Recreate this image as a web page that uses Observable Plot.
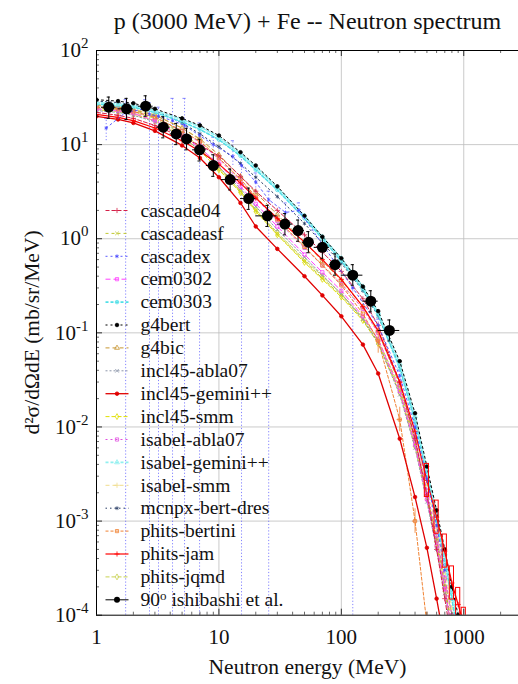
<!DOCTYPE html>
<html><head><meta charset="utf-8">
<script src="https://cdn.jsdelivr.net/npm/d3@7"></script>
<script src="https://cdn.jsdelivr.net/npm/@observablehq/plot@0.6"></script>
<style>
body{margin:0;background:#fff}
svg{display:block}
</style>
</head><body><div id="chart"></div>
<script>
// ---------- data ----------
const energies = [1, 1.5, 2, 3, 5, 7, 10, 15, 20, 30, 50, 70, 100, 150, 200, 300, 400, 500, 600, 700, 800, 900, 1000];

const cascade04      = [22, 20.5, 19, 16, 12, 9.8, 7.6, 4.6, 3.2, 2.0, 1.1, 0.72, 0.45, 0.23, 0.12, 0.03, 0.0075, 0.0019, 0.0005, 0.00015, 0.00005];
const cascadeasf     = [25, 24, 23, 20, 13.5, 9.5, 5.8, 3.2, 2.0, 1.12, 0.58, 0.38, 0.25, 0.14, 0.08, 0.024, 0.0066, 0.0018, 0.00058, 0.0002, 0.00007];
const cem0302        = [24, 23, 21.5, 18, 12.5, 9.2, 6.2, 3.6, 2.35, 1.35, 0.68, 0.44, 0.28, 0.15, 0.085, 0.024, 0.0065, 0.0017, 0.00055, 0.00019, 0.00007];
const cem0303        = [27, 26, 25, 22, 17.5, 14.5, 11.3, 7.6, 5.4, 3.3, 1.65, 1.0, 0.58, 0.29, 0.155, 0.042, 0.0115, 0.0031, 0.001, 0.00037, 0.00015, 0.00006];
const g4bert         = [30, 29, 27.5, 24, 19, 16, 12.5, 8.3, 6, 3.6, 1.75, 1.05, 0.62, 0.31, 0.17, 0.05, 0.014, 0.0038, 0.0013, 0.0005, 0.0002, 0.0001, 0.00005];
const g4bic          = [26, 25, 23.5, 20.5, 15, 11.5, 7.8, 4.6, 3.1, 1.8, 0.92, 0.58, 0.36, 0.19, 0.105, 0.028, 0.0074, 0.0019, 0.00062, 0.0002, 0.00008];
const incl45abla07   = [23, 22, 20.5, 17.5, 12, 8.8, 5.8, 3.4, 2.2, 1.25, 0.64, 0.41, 0.26, 0.14, 0.078, 0.022, 0.006, 0.0016, 0.0005, 0.00017, 0.00006];
const incl45gemini   = [20, 18.5, 17, 14, 9.8, 7.2, 4.5, 2.4, 1.35, 0.78, 0.4, 0.25, 0.15, 0.075, 0.037, 0.0075, 0.0018, 0.00052, 0.00015, 0.00005];
const incl45smm      = [23.5, 22.5, 21, 18, 12.3, 8.6, 5.4, 3.1, 1.95, 1.1, 0.56, 0.37, 0.24, 0.135, 0.077, 0.023, 0.0062, 0.0017, 0.00054, 0.00018, 0.00007];
const isabelabla07   = [25, 24, 22.5, 19.5, 14, 10.5, 7.0, 4.1, 2.7, 1.55, 0.8, 0.52, 0.33, 0.18, 0.1, 0.029, 0.0078, 0.0021, 0.0007, 0.00025, 0.0001, 0.00004];
const isabelgemini   = [28, 27, 26, 23, 18.5, 15.5, 12, 8, 5.8, 3.5, 1.75, 1.05, 0.62, 0.31, 0.165, 0.047, 0.013, 0.0035, 0.0012, 0.00045, 0.00018, 0.00008];
const isabelsmm      = [26.5, 25.5, 24, 21, 15, 11.2, 7.2, 4.2, 2.75, 1.6, 0.82, 0.53, 0.34, 0.18, 0.1, 0.03, 0.0085, 0.0024, 0.0008, 0.0003, 0.00012, 0.00005];
const mcnpxbertdres  = [29, 28, 26.5, 23, 17, 13, 9.5, 6.3, 4.5, 2.8, 1.45, 0.9, 0.55, 0.28, 0.15, 0.044, 0.0122, 0.0034, 0.0012, 0.00045, 0.00018, 0.00008];
const phitsbertini   = [25, 24, 22.5, 19.5, 14, 10.8, 7.2, 4.3, 2.8, 1.6, 0.82, 0.52, 0.32, 0.16, 0.082, 0.012, 0.001, 0.00008];
const phitsjam       = [21, 19.5, 18, 15, 11, 8.5, 6.2, 3.9, 2.7, 1.65, 0.92, 0.6, 0.37, 0.19, 0.105, 0.03, 0.009, 0.0027, 0.0011, 0.00048, 0.00022, 0.00013, 0.00008];
const phitsjqmd      = [24.5, 23.5, 22, 19, 13, 9.1, 5.6, 3.2, 2.05, 1.16, 0.6, 0.4, 0.26, 0.145, 0.085, 0.026, 0.0071, 0.0019, 0.00066, 0.00024, 0.0001, 0.00004];

// cascadex: its own energies, values and error limits
const cascadexE  = [1.2, 1.73, 2.5, 2.71, 3.21, 4.18, 5.24, 6.95, 9, 13, 15.3, 20, 25.5, 35, 45, 124, 200, 300, 400, 500, 600, 700];
const cascadexY  = [15, 22, 24, 21, 20, 18, 16, 12.5, 10, 7.5, 6, 4, 2.6, 1.9, 2.0, 0.3, 0.12, 0.035, 0.01, 0.0028, 0.0009, 0.0003];
const cascadexLo = [11, 1e-4, 19, 1e-4, 1e-4, 1e-4, 1e-4, 1e-4, 8.5, 6, 1e-4, 3.2, 1e-4, 1.5, 1.6, 1e-4, 0.1, 0.03, 0.008, 0.002, 0.0006, 0.0002];
const cascadexHi = [19, 30, 30, 28, 25, 31, 31, 17, 12, 11, 8, 5, 3.2, 2.4, 2.4, 0.45, 0.14, 0.04, 0.012, 0.0036, 0.0012, 0.0004];

// experiment: 90 deg, Ishibashi et al.
const expE   = [1.26, 1.76, 2.52, 3.51, 4.48, 5.44, 6.95, 9.0, 12.35, 17.5, 24.9, 34.6, 44.3, 53.8, 70, 88.8, 124, 174, 247];
const expY   = [25, 24, 25.6, 15.3, 13, 11.5, 8.8, 6.0, 4.25, 2.67, 1.75, 1.43, 1.22, 0.92, 0.81, 0.53, 0.41, 0.217, 0.106];
const expElo = [1.1, 1.5, 2.2, 3.1, 4.0, 5.0, 6.1, 7.9, 10.5, 15, 20, 30, 40, 48, 60, 80, 100, 150, 200];
const expEhi = [1.45, 2.0, 2.9, 4.0, 5.0, 6.0, 7.9, 10.2, 14.5, 20, 30, 40, 50, 60, 80, 100, 150, 200, 300];
const expYlo = [19, 18.5, 20, 11.8, 10, 8.8, 6.7, 4.6, 3.3, 2.05, 1.35, 1.1, 0.94, 0.71, 0.62, 0.41, 0.32, 0.167, 0.082];
const expYhi = [32, 31, 33, 19.8, 16.8, 14.9, 11.4, 7.8, 5.5, 3.45, 2.26, 1.85, 1.58, 1.19, 1.05, 0.69, 0.53, 0.28, 0.137];

const names = ["cascade04","cascadeasf","cascadex","cem0302","cem0303","g4bert","g4bic","incl45-abla07","incl45-gemini++","incl45-smm","isabel-abla07","isabel-gemini++","isabel-smm","mcnpx-bert-dres","phits-bertini","phits-jam","phits-jqmd"];
const expName = "90^o ishibashi et al.";
const title = "p (3000 MeV) + Fe -- Neutron spectrum";
const xLabel = "Neutron energy (MeV)";
const yLabel = "d²σ/dΩdE (mb/sr/MeV)";
const xTicks = [1, 10, 100, 1000];
const yTicks = [1e-4, 1e-3, 1e-2, 1e-1, 1, 10, 100];
const yExps  = ["-4", "-3", "-2", "-1", "0", "1", "2"];

// ---------- styles ----------
const styles = {
  "cascade04":       {v: cascade04,     color: "#d42048", dash: "4,2",   sym: "plus",     w: 1},
  "cascadeasf":      {v: cascadeasf,    color: "#c0c830", dash: "3,3",   sym: "times",    w: 1},
  "cascadex":        {v: null,          color: "#4848ff", dash: "2,3",   sym: "asterisk", w: 0.9},
  "cem0302":         {v: cem0302,       color: "#ff40ff", dash: "5,3",   sym: "square",   w: 1},
  "cem0303":         {v: cem0303,       color: "#50e0e8", dash: "3,2",   sym: "circle",   w: 1.6},
  "g4bert":          {v: g4bert,        color: "#000000", dash: "2,3",   sym: "circle",   w: 1, fill: true},
  "g4bic":           {v: g4bic,         color: "#c89632", dash: "4,3",   sym: "triangle", w: 1},
  "incl45-abla07":   {v: incl45abla07,  color: "#8c96aa", dash: "2,2",   sym: "times",    w: 1},
  "incl45-gemini++": {v: incl45gemini,  color: "#e00000", dash: null,    sym: "circle",   w: 1.3, fill: true},
  "incl45-smm":      {v: incl45smm,     color: "#e0e000", dash: "4,2",   sym: "diamond",  w: 1},
  "isabel-abla07":   {v: isabelabla07,  color: "#e050e0", dash: "2,3",   sym: "square",   w: 1},
  "isabel-gemini++": {v: isabelgemini,  color: "#90f0f0", dash: "3,2",   sym: "triangle", w: 1.6},
  "isabel-smm":      {v: isabelsmm,     color: "#f0dc8c", dash: "4,3",   sym: "plus",     w: 1},
  "mcnpx-bert-dres": {v: mcnpxbertdres, color: "#283c64", dash: "1.5,3", sym: "asterisk", w: 1},
  "phits-bertini":   {v: phitsbertini,  color: "#f08232", dash: "3,2",   sym: "square",   w: 1},
  "phits-jam":       {v: phitsjam,      color: "#ff0000", dash: null,    sym: "plus",     w: 1.2},
  "phits-jqmd":      {v: phitsjqmd,     color: "#c8d250", dash: "4,2",   sym: "diamond",  w: 1}
};

// ---------- geometry ----------
const W = 518, H = 684, ML = 96, MR = 0, MT = 50, MB = 69.3;
const xDomain = [1, 2800], yDomain = [1e-4, 100];
const xs = d3.scaleLog().domain(xDomain).range([ML, W - MR]);
const ys = d3.scaleLog().domain(yDomain).range([H - MB, MT]);
const FONT = "'Liberation Serif', 'Times New Roman', Times, 'DejaVu Serif', serif";

const marks = [];
// grid
marks.push(Plot.ruleX([10, 100, 1000], {stroke: "#bdbdbd", strokeWidth: 0.8}));
marks.push(Plot.ruleY([1e-3, 1e-2, 1e-1, 1, 10], {stroke: "#bdbdbd", strokeWidth: 0.8}));

// cascadex error bars (dotted down to the bottom where lower bound vanishes)
const cx = cascadexE.map((e, i) => ({E: e, y: cascadexY[i], lo: cascadexLo[i], hi: cascadexHi[i]}));
marks.push(Plot.ruleX(cx, {x: "E", y1: "lo", y2: "hi", stroke: "#6464ff", strokeWidth: 0.8, strokeDasharray: "1.2,2", clip: true}));
marks.push(Plot.ruleY(cx, {y: "hi", x1: d => d.E / 1.03, x2: d => d.E * 1.03, stroke: "#6464ff", strokeWidth: 0.8, clip: true}));

// model series
const order = ["isabel-smm","phits-jqmd","cascadeasf","incl45-smm","g4bic","incl45-abla07","cem0302","isabel-abla07","phits-bertini","cascade04","mcnpx-bert-dres","cem0303","isabel-gemini++","g4bert","incl45-gemini++","phits-jam","cascadex"];
for (const name of order) {
  const s = styles[name];
  const data = name === "cascadex" ? cx : s.v.map((y, i) => ({E: energies[i], y}));
  marks.push(Plot.line(data, {x: "E", y: "y", stroke: s.color, strokeWidth: s.w, strokeDasharray: s.dash, clip: true}));
  marks.push(Plot.dot(data, {x: "E", y: "y", symbol: s.sym, r: 1.8, stroke: s.color, fill: s.fill ? s.color : "none", strokeWidth: 0.8, clip: true}));
}
// statistical error bars at high energy
const bert = phitsbertini.map((y, i) => ({E: energies[i], y})).filter(d => d.E >= 200);
marks.push(Plot.ruleX(bert, {x: "E", y1: d => d.y / 1.35, y2: d => d.y * 1.35, stroke: "#f08232", strokeWidth: 0.8, clip: true}));
marks.push(Plot.ruleY(bert, {y: "y", x1: d => d.E / 1.05, x2: d => d.E * 1.05, stroke: "#f08232", strokeWidth: 0.8, clip: true}));
const jam = phitsjam.map((y, i) => ({E: energies[i], y})).filter(d => d.E >= 500);
marks.push(Plot.rect(jam, {x1: d => d.E / 1.04, x2: d => d.E * 1.04, y1: d => d.y / 1.5, y2: d => d.y * 1.5, stroke: "#ff0000", strokeWidth: 1, fill: "none", clip: true}));

// experiment
const ex = expE.map((e, i) => ({E: e, y: expY[i], elo: expElo[i], ehi: expEhi[i], ylo: expYlo[i], yhi: expYhi[i]}));
marks.push(Plot.ruleY(ex, {y: "y", x1: "elo", x2: "ehi", stroke: "#000", strokeWidth: 1}));
marks.push(Plot.ruleX(ex, {x: "E", y1: "ylo", y2: "yhi", stroke: "#000", strokeWidth: 1}));
marks.push(Plot.ruleY(ex, {y: "yhi", x1: d => d.E / 1.03, x2: d => d.E * 1.03, stroke: "#000", strokeWidth: 1}));
marks.push(Plot.ruleY(ex, {y: "ylo", x1: d => d.E / 1.03, x2: d => d.E * 1.03, stroke: "#000", strokeWidth: 1}));
marks.push(Plot.dot(ex, {x: "E", y: "y", r: 5.5, fill: "#000"}));

// frame and ticks (inward, gnuplot style)
const minorX = [], minorY = [];
for (let d = 0; d < 4; d++) for (let k = 2; k <= 9; k++) { const v = k * 10 ** d; if (v < xDomain[1]) minorX.push(v); }
for (let d = -4; d < 2; d++) for (let k = 2; k <= 9; k++) minorY.push(k * 10 ** d);
const px2x = p => xs.invert(ML + p), py2yTop = p => ys.invert(MT + p), py2yBot = p => ys.invert(H - MB - p);
marks.push(Plot.ruleY(yTicks, {x1: 1, x2: px2x(6), stroke: "#000", strokeWidth: 0.8}));
marks.push(Plot.ruleY(minorY, {x1: 1, x2: px2x(3), stroke: "#000", strokeWidth: 0.6}));
marks.push(Plot.ruleX(xTicks, {y1: yDomain[0], y2: py2yBot(6), stroke: "#000", strokeWidth: 0.8}));
marks.push(Plot.ruleX(minorX, {y1: yDomain[0], y2: py2yBot(3), stroke: "#000", strokeWidth: 0.6}));
marks.push(Plot.ruleX(xTicks, {y1: yDomain[1], y2: py2yTop(6), stroke: "#000", strokeWidth: 0.8}));
marks.push(Plot.ruleX(minorX, {y1: yDomain[1], y2: py2yTop(3), stroke: "#000", strokeWidth: 0.6}));
marks.push(Plot.ruleX([1], {stroke: "#000", strokeWidth: 1}));
marks.push(Plot.ruleY([yDomain[0], yDomain[1]], {stroke: "#000", strokeWidth: 1}));

// tick labels
marks.push(Plot.text(xTicks, {x: d => d, y: yDomain[0], dy: 22, text: d => String(d), fontSize: 21, fontFamily: FONT, fill: "#111"}));
marks.push(Plot.text(yTicks, {x: 1, y: d => d, dx: -8, text: (d, i) => "10^" + yExps[i], textAnchor: "end", fontSize: 21, fontFamily: FONT, fill: "#111"}));

// legend (inside the frame, top-left)
const legendRows = names.concat([expName]);
const rowY = i => ys.invert(210 + 22.9 * i);
legendRows.forEach((name, i) => {
  const y = rowY(i);
  if (i < names.length) {
    const s = styles[name];
    marks.push(Plot.link([0], {x1: px2x(9), x2: px2x(32), y1: y, y2: y, stroke: s.color, strokeWidth: s.w, strokeDasharray: s.dash}));
    marks.push(Plot.dot([0], {x: px2x(20.5), y, symbol: s.sym, r: 1.8, stroke: s.color, fill: s.fill ? s.color : "none", strokeWidth: 0.8}));
  } else {
    marks.push(Plot.link([0], {x1: px2x(9), x2: px2x(32), y1: y, y2: y, stroke: "#000", strokeWidth: 1}));
    marks.push(Plot.dot([0], {x: px2x(20.5), y, r: 3, fill: "#000"}));
  }
});
marks.push(Plot.text(legendRows, {x: px2x(44), y: (d, i) => rowY(i), text: d => d, textAnchor: "start", fontSize: 19.5, fontFamily: FONT, fill: "#111"}));

// titles
marks.push(Plot.text([title], {x: xs.invert(307), y: ys.invert(21), fontSize: 24, fontFamily: FONT, fill: "#111"}));
marks.push(Plot.text([xLabel], {x: xs.invert(307), y: ys.invert(667), fontSize: 21.5, fontFamily: FONT, fill: "#111"}));
marks.push(Plot.text([yLabel], {x: xs.invert(32), y: ys.invert(332), rotate: -90, fontSize: 21.5, fontFamily: FONT, fill: "#111"}));

const chart = Plot.plot({
  width: W, height: H,
  marginLeft: ML, marginRight: MR, marginTop: MT, marginBottom: MB,
  x: {type: "log", domain: xDomain, axis: null},
  y: {type: "log", domain: yDomain, axis: null},
  style: {background: "#fff", overflow: "visible", fontFamily: FONT},
  marks
});
document.getElementById("chart").appendChild(chart);

// superscripts (10^n, 90^o) and serif font on every label
d3.select(chart).selectAll("text").each(function () {
  const t = d3.select(this);
  t.style("font-family", FONT);
  const txt = t.text();
  const m = txt.match(/^([^\^]*)\^(\S+)(.*)$/);
  if (!m) return;
  const legend = !!m[3];
  t.text(null);
  t.append("tspan").text(m[1]);
  t.append("tspan").attr("dy", legend ? -6 : -9).attr("font-size", legend ? 13 : 15).text(m[2]);
  if (m[3]) t.append("tspan").attr("dy", 6).text(m[3]);
});
</script>
</body></html>
